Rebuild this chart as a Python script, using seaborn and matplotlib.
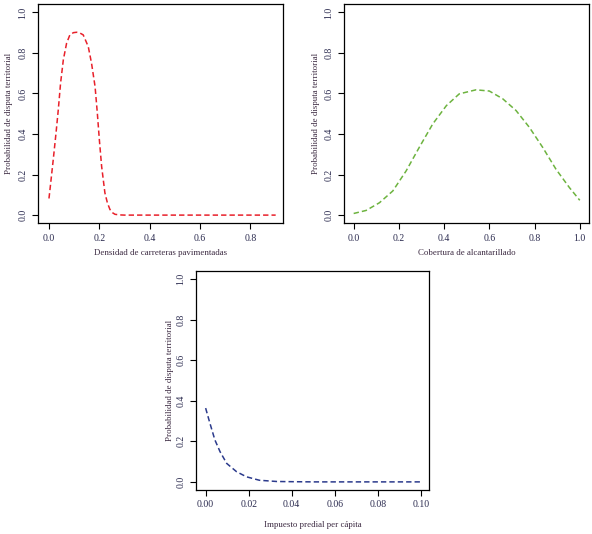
import matplotlib
matplotlib.use("Agg")
import matplotlib.pyplot as plt
import seaborn as sns
import pandas as pd

# values
x_carreteras = [0.0, 0.004, 0.017, 0.028, 0.037, 0.046, 0.057, 0.070, 0.083, 0.097,
                0.110, 0.123, 0.136, 0.156, 0.169, 0.183, 0.192, 0.200, 0.209, 0.222,
                0.232, 0.242, 0.252, 0.262, 0.28, 0.30, 0.4, 0.5, 0.6, 0.7, 0.8, 0.9]
p_carreteras = [0.082, 0.126, 0.274, 0.405, 0.52, 0.65, 0.766, 0.848, 0.889, 0.90,
                0.902, 0.898, 0.889, 0.831, 0.749, 0.634, 0.503, 0.372, 0.241, 0.11,
                0.06, 0.028, 0.012, 0.004, 0.001, 0.0, 0.0, 0.0, 0.0, 0.0, 0.0, 0.0]

x_alcantarillado = [0.0, 0.055, 0.114, 0.173, 0.232, 0.29, 0.35, 0.41, 0.467, 0.541,
                    0.60, 0.659, 0.718, 0.777, 0.836, 0.895, 0.954, 1.0]
p_alcantarillado = [0.008, 0.023, 0.061, 0.119, 0.218, 0.334, 0.45, 0.54, 0.598, 0.618,
                    0.612, 0.574, 0.516, 0.433, 0.334, 0.226, 0.136, 0.073]

x_predial = [0.0, 0.002, 0.0043, 0.0067, 0.0098, 0.0144, 0.019, 0.025, 0.033, 0.04,
             0.05, 0.06, 0.07, 0.08, 0.09, 0.10]
p_predial = [0.364, 0.289, 0.207, 0.149, 0.091, 0.05, 0.025, 0.008, 0.002, 0.001,
             0.0, 0.0, 0.0, 0.0, 0.0, 0.0]

ylabel = "Probabilidad de disputa territorial"
xlabels = ["Densidad de carreteras pavimentadas", "Cobertura de alcantarillado",
           "Impuesto predial per cápita"]
colors = ["#e8202a", "#6db33f", "#2b3a8c"]

sns.set_style("ticks")
plt.rcParams["font.family"] = ["Liberation Serif", "DejaVu Serif"]

fig = plt.figure(figsize=(5.92, 5.34), dpi=100)
axes = [fig.add_axes([0.064, 0.582, 0.414, 0.410]),
        fig.add_axes([0.581, 0.582, 0.414, 0.410]),
        fig.add_axes([0.331, 0.0824, 0.394, 0.410])]

data = [(x_carreteras, p_carreteras), (x_alcantarillado, p_alcantarillado), (x_predial, p_predial)]
xlims = [(-0.044, 0.929), (-0.043, 1.041), (-0.0045, 0.1039)]
xticks = [[0.0, 0.2, 0.4, 0.6, 0.8], [0.0, 0.2, 0.4, 0.6, 0.8, 1.0],
          [0.0, 0.02, 0.04, 0.06, 0.08, 0.10]]
xfmt = ["{:.1f}", "{:.1f}", "{:.2f}"]
xlab_y = [-0.137, -0.137, -0.16]
ylab_x = [-0.118, -0.114, -0.112]

for i, ax in enumerate(axes):
    df = pd.DataFrame({"x": data[i][0], "p": data[i][1]})
    sns.lineplot(data=df, x="x", y="p", ax=ax, color=colors[i], lw=1.1,
                 linestyle=(0, (3.5, 2)))
    ax.set_xlim(*xlims[i])
    ax.set_ylim(-0.04, 1.04)
    ax.set_xticks(xticks[i])
    ax.set_xticklabels([xfmt[i].format(t) for t in xticks[i]])
    yt = [0.0, 0.2, 0.4, 0.6, 0.8, 1.0]
    ax.set_yticks(yt)
    ax.set_yticklabels(["{:.1f}".format(t) for t in yt], rotation=90, va="center")
    ax.tick_params(length=4, width=0.8, color="black", labelsize=7,
                   labelcolor="#2b2b4f", pad=3.5)
    for s in ax.spines.values():
        s.set_visible(True)
        s.set_linewidth(0.9)
        s.set_color("black")
    ax.set_xlabel(xlabels[i], fontsize=6.4, color="#3a2840")
    ax.set_ylabel(ylabel, fontsize=6.4, color="#3a2840")
    ax.xaxis.set_label_coords(0.5, xlab_y[i])
    ax.xaxis.label.set_verticalalignment("center")
    ax.yaxis.set_label_coords(ylab_x[i], 0.5)
    ax.yaxis.label.set_verticalalignment("center")

fig.savefig("out.png", dpi=100)
